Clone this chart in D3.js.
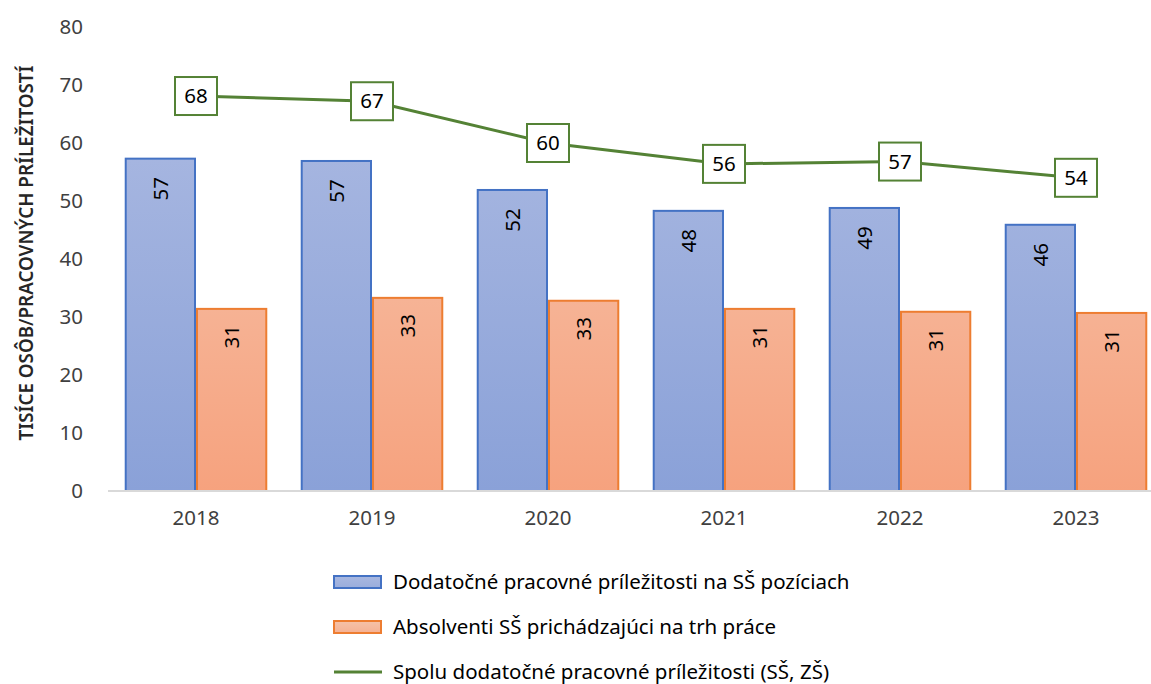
<!DOCTYPE html>
<html>
<head>
<meta charset="utf-8">
<script src="https://cdn.jsdelivr.net/npm/d3@7.9.0/dist/d3.min.js"></script>
<style>
  body { margin: 0; background: #fff; }
  svg { display: block; font-family: 'Noto Sans', sans-serif; }
</style>
</head>
<body>
<svg id="chart" width="1151" height="684"></svg>
<script>
const years = ['2018', '2019', '2020', '2021', '2022', '2023'];
const openings = [57.3, 56.9, 51.9, 48.3, 48.8, 45.9];
const graduates = [31.4, 33.3, 32.8, 31.4, 30.9, 30.7];
const total = [68.1, 67.2, 60.0, 56.4, 56.8, 54.0];
const yTicks = [0, 10, 20, 30, 40, 50, 60, 70, 80];
const seriesNames = [
    'Dodatočné pracovné príležitosti na SŠ pozíciach',
    'Absolventi SŠ prichádzajúci na trh práce',
    'Spolu dodatočné pracovné príležitosti (SŠ, ZŠ)'
];

const svg = d3.select('#chart');
const margin = { left: 108, right: 1164, top: 27, bottom: 491 };

const x = d3.scaleBand().domain(years).range([margin.left, margin.right]).paddingInner(0.19).paddingOuter(0.095);
const xSub = d3.scaleBand().domain([0, 1]).range([0, x.bandwidth()]);
const y = d3.scaleLinear().domain([0, 80]).range([margin.bottom, margin.top]);

const defs = svg.append('defs');
function grad(id, top, bottom) {
    const g = defs.append('linearGradient').attr('id', id)
        .attr('gradientUnits', 'userSpaceOnUse')
        .attr('x1', 0).attr('x2', 0).attr('y1', y(80)).attr('y2', y(0));
    g.append('stop').attr('offset', '0%').attr('stop-color', top);
    g.append('stop').attr('offset', '100%').attr('stop-color', bottom);
}
grad('gBlue', '#b0bde3', '#8aa1d8');
grad('gOrange', '#f6cbb6', '#f6a27e');
const lgBlue = defs.append('linearGradient').attr('id', 'lBlue').attr('x1', 0).attr('x2', 0).attr('y1', 0).attr('y2', 1);
lgBlue.append('stop').attr('offset', '0%').attr('stop-color', '#a9b8e0');
lgBlue.append('stop').attr('offset', '100%').attr('stop-color', '#9aaddc');
const lgOr = defs.append('linearGradient').attr('id', 'lOrange').attr('x1', 0).attr('x2', 0).attr('y1', 0).attr('y2', 1);
lgOr.append('stop').attr('offset', '0%').attr('stop-color', '#f5c2a8');
lgOr.append('stop').attr('offset', '100%').attr('stop-color', '#f5b193');

const fs = 20.5;

// y axis labels
const yAxis = svg.append('g').attr('transform', `translate(${margin.left - 25},0)`)
    .call(d3.axisLeft(y).tickValues(yTicks).tickSize(0).tickPadding(0));
yAxis.select('.domain').remove();
yAxis.selectAll('text').attr('font-size', fs).attr('fill', '#404040')
    .attr('font-family', "'Noto Sans', sans-serif");

svg.append('text')
    .attr('transform', 'translate(33,253) rotate(-90)')
    .attr('text-anchor', 'middle')
    .attr('font-size', 18.8).attr('font-weight', 600).attr('fill', '#262626')
    .text('TISÍCE OSÔB/PRACOVNÝCH PRÍLEŽITOSTÍ');

// bars
const barSets = [
    { values: openings, fill: 'url(#gBlue)', stroke: '#4472c4', offset: 30 },
    { values: graduates, fill: 'url(#gOrange)', stroke: '#ed7d31', offset: 28 }
];
barSets.forEach((s, k) => {
    const g = svg.append('g');
    g.selectAll('rect').data(s.values).enter().append('rect')
        .attr('x', (d, i) => x(years[i]) + xSub(k) + 1)
        .attr('y', d => y(d))
        .attr('width', xSub.bandwidth() - 2)
        .attr('height', d => y(0) - y(d))
        .attr('fill', s.fill)
        .attr('stroke', s.stroke).attr('stroke-width', 2);
    g.selectAll('text').data(s.values).enter().append('text')
        .attr('transform', (d, i) => `translate(${x(years[i]) + xSub(k) + xSub.bandwidth() / 2},${y(d) + s.offset}) rotate(-90)`)
        .attr('text-anchor', 'middle').attr('dy', '0.35em')
        .attr('font-size', fs).attr('fill', '#000')
        .text(d => Math.round(d));
});

// x axis
svg.append('line')
    .attr('x1', margin.left).attr('x2', 1151)
    .attr('y1', y(0)).attr('y2', y(0))
    .attr('stroke', '#d9d9d9').attr('stroke-width', 2);
const xAxis = svg.append('g').attr('transform', `translate(0,${y(0) + 19})`)
    .call(d3.axisBottom(x).tickSize(0).tickPadding(0));
xAxis.select('.domain').remove();
xAxis.selectAll('text').attr('font-size', fs).attr('fill', '#404040')
    .attr('font-family', "'Noto Sans', sans-serif");

// total line
const cx = d => x(d) + x.bandwidth() / 2;
const line = d3.line().x((d, i) => cx(years[i])).y(d => y(d));
svg.append('path').datum(total)
    .attr('d', line).attr('fill', 'none')
    .attr('stroke', '#548235').attr('stroke-width', 3);
const boxes = svg.append('g').selectAll('g').data(total).enter().append('g')
    .attr('transform', (d, i) => `translate(${cx(years[i])},${y(d)})`);
boxes.append('rect')
    .attr('x', -21).attr('y', -19).attr('width', 42).attr('height', 38)
    .attr('fill', '#fff').attr('stroke', '#548235').attr('stroke-width', 2);
boxes.append('text')
    .attr('text-anchor', 'middle').attr('dy', '0.35em')
    .attr('font-size', fs).attr('fill', '#000')
    .text(d => Math.round(d));

// legend
const legend = svg.append('g').attr('transform', 'translate(334,582)');
const rows = legend.selectAll('g').data(seriesNames).enter().append('g')
    .attr('transform', (d, i) => `translate(0,${i * 45})`);
rows.each(function(d, i) {
    const r = d3.select(this);
    if (i < 2) {
        r.append('rect').attr('x', 0).attr('y', -6).attr('width', 47).attr('height', 12)
            .attr('fill', i === 0 ? 'url(#lBlue)' : 'url(#lOrange)')
            .attr('stroke', i === 0 ? '#4472c4' : '#ed7d31').attr('stroke-width', 2);
    } else {
        r.append('line').attr('x1', 0).attr('x2', 48).attr('y1', 0).attr('y2', 0)
            .attr('stroke', '#548235').attr('stroke-width', 3);
    }
});
rows.append('text')
    .attr('x', 59).attr('dy', '0.35em')
    .attr('font-size', fs).attr('fill', '#000')
    .text(d => d);
</script>
</body>
</html>
